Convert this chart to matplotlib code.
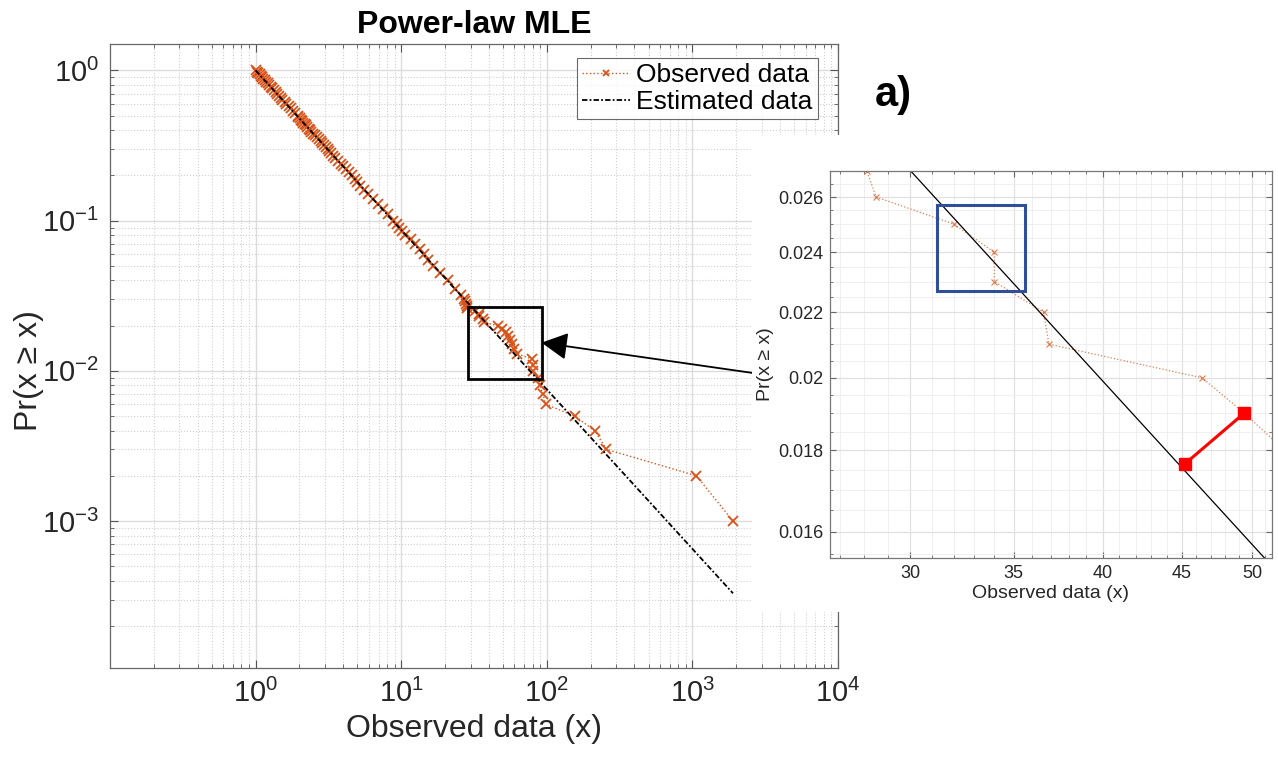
import numpy as np
import matplotlib.pyplot as plt
from matplotlib.patches import Rectangle
from matplotlib.ticker import FixedLocator, FixedFormatter, NullFormatter, MultipleLocator

plt.rcParams['font.family'] = ['Liberation Sans', 'DejaVu Sans']
plt.rcParams['mathtext.fontset'] = 'custom'
plt.rcParams['mathtext.rm'] = 'Liberation Sans'
plt.rcParams['mathtext.it'] = 'Liberation Sans:italic'
plt.rcParams['mathtext.bf'] = 'Liberation Sans:bold'

# observed CCDF
obs_x = [1.00, 1.02, 1.04, 1.07, 1.09, 1.11, 1.13, 1.16, 1.18, 1.21,
         1.24, 1.27, 1.30, 1.34, 1.37, 1.41, 1.45, 1.49, 1.53, 1.58,
         1.63, 1.69, 1.74, 1.80, 1.87, 1.94, 1.97, 2.01, 2.05, 2.09,
         2.13, 2.17, 2.21, 2.26, 2.31, 2.36, 2.42, 2.48, 2.56, 2.64,
         2.72, 2.80, 2.87, 2.95, 3.03, 3.12, 3.21, 3.31, 3.41, 3.53,
         3.67, 3.83, 4.01, 4.20, 4.41, 4.62, 4.80, 4.98, 5.20, 5.52,
         5.91, 6.36, 6.88, 7.45, 8.10, 8.85, 9.30, 9.70, 10.1, 10.7,
         11.6, 12.5, 13.4, 14.3, 15.3, 16.6, 18.5, 20.9, 23.4, 25.6,
         27.0, 27.4, 27.7, 28.1, 28.5, 32.0, 34.0, 34.0, 36.6, 36.9,
         46.4, 49.4, 52.5, 54.0, 55.5, 57.5, 60.0, 62.0, 79.0, 80.0,
         81.0, 87.0, 89.5, 94.0, 98.0, 155.0, 213.0, 257.0, 1065.0, 1900.0]
obs_y = [1.00, 0.98, 0.96, 0.94, 0.92, 0.90, 0.88, 0.86, 0.84, 0.82,
         0.80, 0.78, 0.76, 0.74, 0.72, 0.70, 0.68, 0.66, 0.64, 0.62,
         0.60, 0.58, 0.56, 0.54, 0.52, 0.50, 0.49, 0.48, 0.47, 0.46,
         0.45, 0.44, 0.43, 0.42, 0.41, 0.40, 0.39, 0.38, 0.37, 0.36,
         0.35, 0.34, 0.33, 0.32, 0.31, 0.30, 0.29, 0.28, 0.27, 0.26,
         0.25, 0.24, 0.23, 0.22, 0.21, 0.20, 0.19, 0.18, 0.17, 0.16,
         0.15, 0.14, 0.13, 0.12, 0.11, 0.10, 0.095, 0.09, 0.085, 0.08,
         0.075, 0.07, 0.065, 0.06, 0.055, 0.05, 0.045, 0.04, 0.035, 0.032,
         0.030, 0.029, 0.028, 0.027, 0.026, 0.025, 0.024, 0.023, 0.022, 0.021,
         0.020, 0.019, 0.018, 0.017, 0.016, 0.015, 0.014, 0.013, 0.012, 0.011,
         0.010, 0.009, 0.008, 0.007, 0.006, 0.005, 0.004, 0.003, 0.002, 0.001]

# fitted power law (straight line on log-log)
est_x = [1.0, 1900.0]
est_y = [1.0, 3.3e-4]

# zoom box on main plot, inset limits, highlight box and red segment
zoom_x = [28.6, 92.0]
zoom_y = [0.0088, 0.0268]
inset_xlim = [26.6, 51.5]
inset_ylim = [0.0154, 0.0270]
blue_x = [31.2, 35.6]
blue_y = [0.0227, 0.0257]
red_x = [45.2, 49.4]
red_y = [0.01765, 0.0190]

inset_xticks = [30, 35, 40, 45, 50]
inset_yticks = [0.016, 0.018, 0.02, 0.022, 0.024, 0.026]
inset_ylabels = ['0.016', '0.018', '0.02', '0.022', '0.024', '0.026']

orange = '#D95319'
W, H = 1278, 760
fig = plt.figure(figsize=(W / 100, H / 100), dpi=100)

def px(x0, y0, x1, y1):
    return [x0 / W, 1 - y1 / H, (x1 - x0) / W, (y1 - y0) / H]

# ---- main axes
ax = fig.add_axes(px(110, 44, 838, 668))
ax.set_xscale('log')
ax.set_yscale('log')
ax.plot(obs_x, obs_y, ls=':', lw=1.0, color=orange, marker='x', ms=7, mew=1.3,
        label='Observed data')
ax.plot(est_x, est_y, ls='-.', dashes=(3, 1.2, 1, 1.2), lw=1.3, color='black',
        label='Estimated data')
ax.set_xlim(0.1, 1e4)
ax.set_ylim(1.05e-4, 1.5)
ax.set_xticks([1, 10, 100, 1000, 10000])
ax.set_yticks([1e-3, 1e-2, 1e-1, 1])
ax.grid(True, which='major', color='#dcdcdc', lw=1.0, ls='-')
ax.grid(True, which='minor', color='#d0d0d0', lw=0.8, ls=':')
ax.tick_params(which='both', direction='in', top=True, right=True, colors='#555555',
               labelcolor='#262626')
ax.tick_params(which='major', length=6, labelsize=21, pad=8)
ax.tick_params(which='minor', length=3)
for s in ax.spines.values():
    s.set_color('#666666')
    s.set_linewidth(0.9)
ax.set_xlabel('Observed data (x)', fontsize=23, color='#262626', labelpad=4)
ax.set_ylabel('Pr(x ≥ x)', fontsize=23, color='#262626')
ax.yaxis.set_label_coords(-0.09, 0.476)
ax.set_title('Power-law MLE', fontsize=23, fontweight='bold', pad=8)
ax.add_patch(Rectangle((zoom_x[0], zoom_y[0]), zoom_x[1] - zoom_x[0], zoom_y[1] - zoom_y[0],
                       fill=False, ec='black', lw=2, zorder=5))
leg = ax.legend(loc='upper right', bbox_to_anchor=(0.9725, 0.9776), borderaxespad=0,
                fontsize=19, frameon=True, fancybox=False, handlelength=1.8,
                handletextpad=0.25, borderpad=0.2, labelspacing=0.1, markerscale=0.6)
leg.get_frame().set_edgecolor('#444444')
leg.get_frame().set_linewidth(0.8)

# white backdrop of the inset picture
fig.add_artist(Rectangle((752 / W, 1 - 612 / H), 1 - 752 / W, (612 - 135) / H,
                         transform=fig.transFigure, fc='white', ec='none', zorder=1))

# arrow from inset to zoom box
ax.annotate('', xy=(zoom_x[1], 0.0154), xycoords='data',
            xytext=(753 / W, 1 - 373 / H), textcoords='figure fraction',
            arrowprops=dict(arrowstyle='-|>,head_length=0.8,head_width=0.42',
                            mutation_scale=20, lw=1.3, color='black',
                            shrinkA=0, shrinkB=0),
            annotation_clip=False, zorder=6)

# ---- inset axes
ins = fig.add_axes(px(830, 171, 1272, 558))
ins.set_zorder(2)
ins.set_xscale('log')
ins.set_yscale('log')
ins.plot(obs_x, obs_y, ls=':', lw=0.9, color=orange, alpha=0.75, marker='x', ms=4, mew=0.8)
ins.plot(est_x, est_y, ls='-', lw=0.9, color='black')
ins.plot(red_x, red_y, color='#ff0000', lw=2.2, marker='s', ms=8)
ins.add_patch(Rectangle((blue_x[0], blue_y[0]), blue_x[1] - blue_x[0], blue_y[1] - blue_y[0],
                        fill=False, ec='#2f4f98', lw=2.2, zorder=5))
ins.set_xlim(inset_xlim)
ins.set_ylim(inset_ylim)
ins.xaxis.set_major_locator(FixedLocator(inset_xticks))
ins.xaxis.set_major_formatter(FixedFormatter([str(t) for t in inset_xticks]))
ins.xaxis.set_minor_locator(MultipleLocator(1))
ins.xaxis.set_minor_formatter(NullFormatter())
ins.yaxis.set_major_locator(FixedLocator(inset_yticks))
ins.yaxis.set_major_formatter(FixedFormatter(inset_ylabels))
ins.yaxis.set_minor_locator(MultipleLocator(0.0005))
ins.yaxis.set_minor_formatter(NullFormatter())
ins.grid(True, which='major', color='#e0e0e0', lw=0.9)
ins.grid(True, which='minor', color='#ececec', lw=0.6)
ins.tick_params(which='both', direction='in', top=True, right=True, colors='#666666',
                labelcolor='#262626')
ins.tick_params(which='major', length=4, labelsize=13, pad=5)
ins.tick_params(which='minor', length=2)
for s in ins.spines.values():
    s.set_color('#777777')
    s.set_linewidth(0.9)
ins.set_xlabel('Observed data (x)', fontsize=14, color='#262626', labelpad=2)
ins.set_ylabel('Pr(x ≥ x)', fontsize=14, color='#262626', labelpad=3)

fig.text(875 / W, 1 - 95 / H, 'a)', fontsize=30, fontweight='bold', ha='left', va='center')

fig.savefig('out.png', dpi=100)
